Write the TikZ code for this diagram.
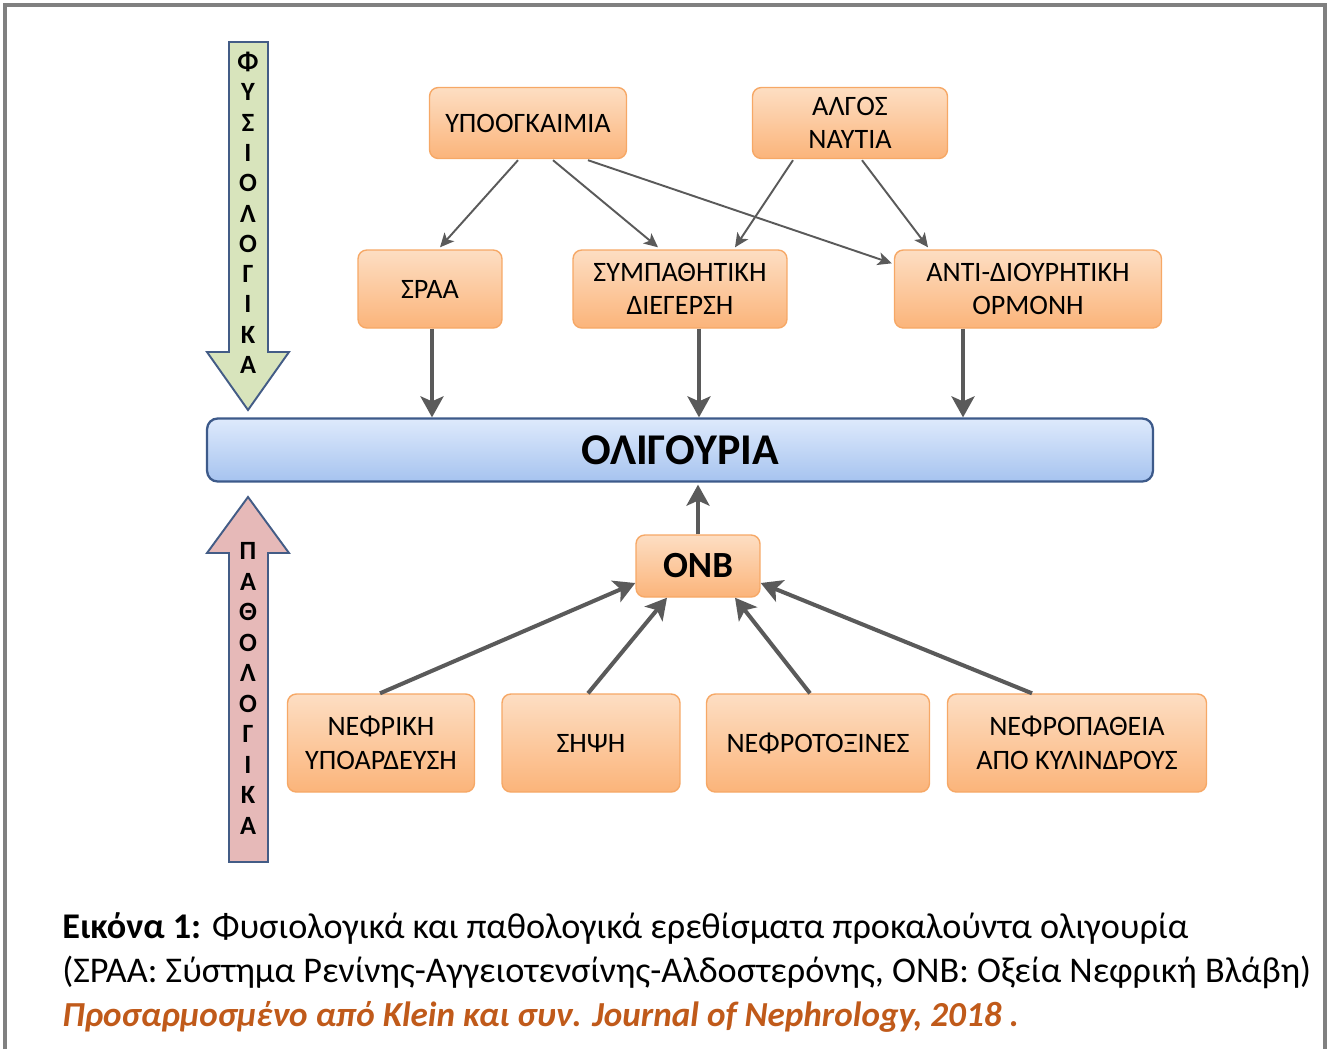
\documentclass[tikz,border=0pt]{standalone}
\usepackage{fontspec}
\setmainfont{Carlito}
\usepackage{xcolor}
\usetikzlibrary{arrows.meta,calc,positioning}

\definecolor{boxtop}{HTML}{FDDEC3}
\definecolor{boxbot}{HTML}{FBB47A}
\definecolor{boxedge}{HTML}{F6A866}
\definecolor{bartop}{HTML}{DEEAFC}
\definecolor{barbot}{HTML}{A6C3EF}
\definecolor{baredge}{HTML}{3D5A8A}
\definecolor{arrgray}{HTML}{5A5A5A}
\definecolor{fysfill}{HTML}{D8E4BC}
\definecolor{pathfill}{HTML}{E6B9B8}
\definecolor{blockedge}{HTML}{435C86}
\definecolor{citecol}{HTML}{C05A1A}

\begin{document}
\begin{tikzpicture}[x=0.02cm, y=-0.02cm,
    box/.style={rectangle, draw=boxedge, line width=0.8pt, rounded corners=5pt, top color=boxtop, bottom color=boxbot, align=center, inner sep=0pt, font=\fontsize{16}{19}\selectfont},
    bar/.style={rectangle, draw=baredge, line width=1.3pt, rounded corners=6pt, top color=bartop, bottom color=barbot, align=center, inner sep=0pt},
    thinarr/.style={-{Stealth[length=0.28cm, width=0.26cm, inset=0.07cm]}, draw=arrgray, fill=arrgray, line width=1.1pt},
    thickarr/.style={-{Stealth[length=0.42cm, width=0.46cm, inset=0.1cm]}, draw=arrgray, fill=arrgray, line width=2.3pt},
    block/.style={draw=blockedge, line width=1.1pt, line join=miter},
    vletter/.style={font=\fontsize{15}{15}\selectfont\bfseries, inner sep=0pt},
    caption/.style={anchor=base west, inner sep=0pt, font=\fontsize{20.6}{24}\selectfont}
]
    \useasboundingbox (0,0) rectangle (1328,1049);

    % frame
    \draw[gray, line width=0.08cm] (5,1049) -- (5,5) -- (1325,5) -- (1325,1049);

    % side block arrows
    \draw[block, fill=fysfill] (229,42) -- (268,42) -- (268,352) -- (289,352) -- (248,410) -- (207,352) -- (229,352) -- cycle;
    \draw[block, fill=pathfill] (229,862) -- (229,553) -- (207,553) -- (248,497) -- (289,553) -- (268,553) -- (268,862) -- cycle;

    \foreach \l [count=\i from 0] in {Φ,Υ,Σ,Ι,Ο,Λ,Ο,Γ,Ι,Κ,Α} {
        \node[vletter] (fys\i) at (248, {62+30.3*\i}) {\l};
    }
    \foreach \l [count=\i from 0] in {Π,Α,Θ,Ο,Λ,Ο,Γ,Ι,Κ,Α} {
        \node[vletter] (path\i) at (248, {551+30.5*\i}) {\l};
    }

    % physiological causes
    \node[box, minimum width=3.94cm, minimum height=1.42cm] (hypo) at (528,123) {ΥΠΟΟΓΚΑΙΜΙΑ};
    \node[box, minimum width=3.9cm, minimum height=1.42cm] (pain) at (850,123) {ΑΛΓΟΣ\\ΝΑΥΤΙΑ};
    \node[box, minimum width=2.88cm, minimum height=1.56cm] (sraa) at (430,289) {ΣΡΑΑ};
    \node[box, minimum width=4.28cm, minimum height=1.56cm] (symp) at (680,289) {ΣΥΜΠΑΘΗΤΙΚΗ\\ΔΙΕΓΕΡΣΗ};
    \node[box, minimum width=5.34cm, minimum height=1.56cm] (adh) at (1028,289) {ΑΝΤΙ-ΔΙΟΥΡΗΤΙΚΗ\\ΟΡΜΟΝΗ};

    % oliguria
    \node[bar, minimum width=18.92cm, minimum height=1.26cm, font=\fontsize{25}{25}\selectfont\bfseries] (olig) at (680,450) {ΟΛΙΓΟΥΡΙΑ};

    % pathological causes
    \node[box, minimum width=2.48cm, minimum height=1.24cm, font=\fontsize{21}{21}\selectfont\bfseries] (onb) at (698,566) {ΟΝΒ};
    \node[box, minimum width=3.74cm, minimum height=1.96cm] (hypoperf) at (381,743) {ΝΕΦΡΙΚΗ\\ΥΠΟΑΡΔΕΥΣΗ};
    \node[box, minimum width=3.56cm, minimum height=1.96cm] (sepsis) at (591,743) {ΣΗΨΗ};
    \node[box, minimum width=4.46cm, minimum height=1.96cm] (toxins) at (818,743) {ΝΕΦΡΟΤΟΞΙΝΕΣ};
    \node[box, minimum width=5.18cm, minimum height=1.96cm] (cast) at (1077,743) {ΝΕΦΡΟΠΑΘΕΙΑ\\ΑΠΟ ΚΥΛΙΝΔΡΟΥΣ};

    % connectors
    \draw[thinarr] ($(hypo.south)+(-10,1)$) -- ($(sraa.north)+(10,-2)$);
    \draw[thinarr] ($(hypo.south)+(25,1)$) -- ($(symp.north)+(-22,-2)$);
    \draw[thinarr] ($(hypo.south)+(60,1)$) -- ($(adh.north west)+(-2,14)$);
    \draw[thinarr] ($(pain.south)+(-57,1)$) -- ($(symp.north)+(55,-2)$);
    \draw[thinarr] ($(pain.south)+(12,1)$) -- ($(adh.north)+(-100,-2)$);

    \draw[thickarr] ([xshift=0.04cm]sraa.south) -- ([xshift=0.04cm]sraa.south |- olig.north);
    \draw[thickarr] ([xshift=0.38cm]symp.south) -- ([xshift=0.38cm]symp.south |- olig.north);
    \draw[thickarr] ([xshift=-1.3cm]adh.south) -- ([xshift=-1.3cm]adh.south |- olig.north);
    \draw[thickarr] (onb.north) -- ([yshift=-0.04cm]olig.south -| onb.north);

    \draw[thickarr] ($(hypoperf.north)+(-1,0)$) -- ($(onb.west)+(0,17)$);
    \draw[thickarr] ($(sepsis.north)+(-3,0)$) -- ($(onb.south)+(-31,0)$);
    \draw[thickarr] ($(toxins.north)+(-8,0)$) -- ($(onb.south)+(37,0)$);
    \draw[thickarr] ($(cast.north)+(-45,0)$) -- ($(onb.east)+(0,17)$);

    % caption
    \node[caption] (cap1) at (62,938) {\textbf{Εικόνα 1:} Φυσιολογικά και παθολογικά ερεθίσματα προκαλούντα ολιγουρία};
    \node[caption] (cap2) at (62,982) {(ΣΡΑΑ: Σύστημα Ρενίνης-Αγγειοτενσίνης-Αλδοστερόνης, ΟΝΒ: Οξεία Νεφρική Βλάβη)};
    \node[caption, text=citecol, font=\fontsize{20}{24}\selectfont\bfseries\itshape] (cap3) at (62,1026) {Προσαρμοσμένο από Klein και συν. Journal of Nephrology, 2018 .};
\end{tikzpicture}
\end{document}
